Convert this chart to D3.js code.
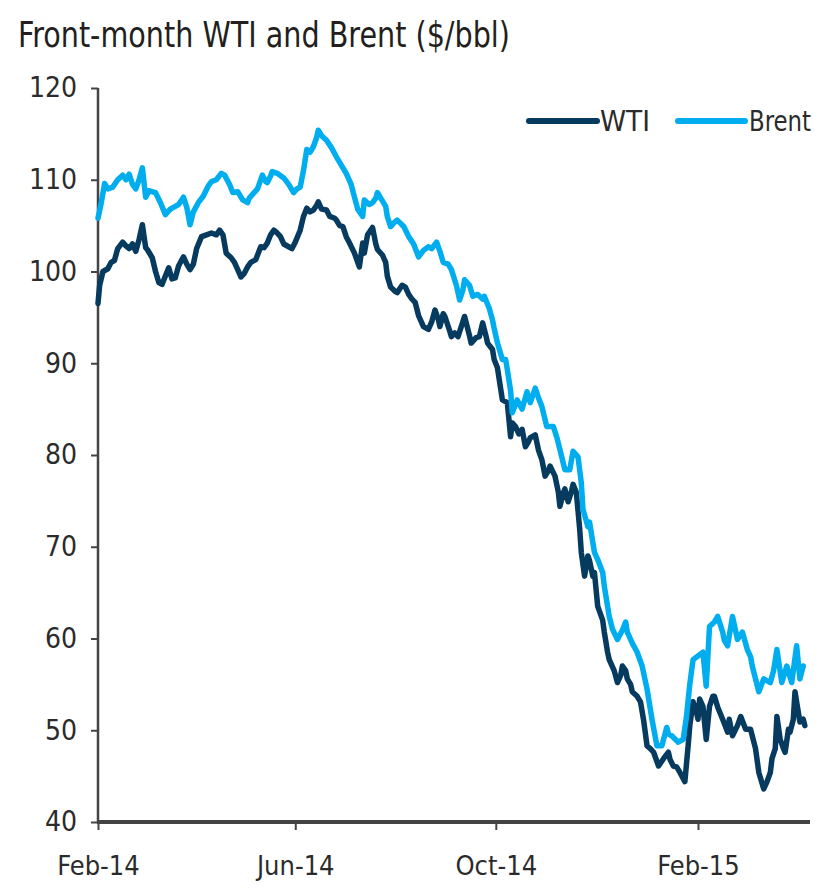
<!DOCTYPE html>
<html>
<head>
<meta charset="utf-8">
<script src="https://cdn.jsdelivr.net/npm/d3@7"></script>
<style>
  html, body { margin: 0; padding: 0; background: #ffffff; }
  svg { display: block; }
  text { font-family: "Liberation Sans Narrow", "DejaVu Sans Condensed", "Arial Narrow", sans-serif; }
</style>
</head>
<body>
<svg id="chart" width="831" height="888"></svg>
<script>
const titleText = "Front-month WTI and Brent ($/bbl)";
const seriesNames = ["WTI", "Brent"];
const yTickValues = [40, 50, 60, 70, 80, 90, 100, 110, 120];
const xTickDates = ["2014-02-01", "2014-06-01", "2014-10-01", "2015-02-01"];
const xTickLabels = ["Feb-14", "Jun-14", "Oct-14", "Feb-15"];

const wti = [
["2014-02-01",96.5],["2014-02-02",98.5],["2014-02-04",100.0],["2014-02-07",100.3],["2014-02-09",101.0],
["2014-02-11",101.2],["2014-02-13",102.5],["2014-02-16",103.2],["2014-02-18",102.8],["2014-02-20",102.5],
["2014-02-22",103.0],["2014-02-24",102.2],["2014-02-26",103.5],["2014-02-28",105.1],["2014-03-02",102.6],
["2014-03-03",102.4],["2014-03-06",101.5],["2014-03-08",100.0],["2014-03-10",98.8],["2014-03-12",98.6],
["2014-03-14",99.5],["2014-03-16",100.4],["2014-03-18",99.2],["2014-03-20",99.3],["2014-03-22",100.6],
["2014-03-25",101.6],["2014-03-27",100.8],["2014-03-29",100.2],["2014-03-31",100.8],["2014-04-02",102.5],
["2014-04-05",103.8],["2014-04-08",104.0],["2014-04-11",104.2],["2014-04-14",104.0],["2014-04-16",104.5],
["2014-04-18",104.0],["2014-04-20",102.0],["2014-04-23",101.5],["2014-04-25",101.0],["2014-04-27",100.2],
["2014-04-29",99.4],["2014-05-01",99.8],["2014-05-03",100.5],["2014-05-05",101.0],["2014-05-08",101.3],
["2014-05-11",102.7],["2014-05-13",102.6],["2014-05-15",103.1],["2014-05-17",104.0],["2014-05-19",104.5],
["2014-05-21",104.2],["2014-05-23",103.8],["2014-05-25",103.0],["2014-05-28",102.7],["2014-05-30",102.5],
["2014-06-01",103.2],["2014-06-04",104.5],["2014-06-06",106.0],["2014-06-08",106.9],["2014-06-10",106.5],
["2014-06-12",106.7],["2014-06-14",107.2],["2014-06-15",107.6],["2014-06-17",106.8],["2014-06-20",106.7],
["2014-06-22",106.0],["2014-06-25",105.8],["2014-06-26",105.6],["2014-06-28",105.0],["2014-06-30",104.9],
["2014-07-02",103.8],["2014-07-04",103.1],["2014-07-07",102.0],["2014-07-09",101.0],["2014-07-10",100.5],
["2014-07-12",103.1],["2014-07-13",102.0],["2014-07-15",104.0],["2014-07-18",104.8],["2014-07-20",103.0],
["2014-07-21",102.4],["2014-07-24",101.8],["2014-07-26",101.0],["2014-07-27",99.5],["2014-07-29",98.3],
["2014-08-01",97.8],["2014-08-02",97.7],["2014-08-05",98.5],["2014-08-07",98.3],["2014-08-09",97.5],
["2014-08-11",97.0],["2014-08-13",96.6],["2014-08-15",95.2],["2014-08-18",94.0],["2014-08-21",93.7],
["2014-08-23",94.5],["2014-08-25",95.8],["2014-08-27",94.8],["2014-08-28",94.0],["2014-08-30",95.4],
["2014-08-31",95.1],["2014-09-03",93.5],["2014-09-04",92.9],["2014-09-06",93.3],["2014-09-08",92.9],
["2014-09-10",94.0],["2014-09-12",95.1],["2014-09-15",93.0],["2014-09-16",92.2],["2014-09-19",92.8],
["2014-09-21",92.9],["2014-09-23",94.4],["2014-09-25",93.0],["2014-09-26",92.2],["2014-09-29",91.5],
["2014-09-30",90.4],["2014-10-02",89.5],["2014-10-05",86.0],["2014-10-08",85.7],["2014-10-10",82.0],
["2014-10-11",83.5],["2014-10-13",83.1],["2014-10-15",82.3],["2014-10-17",82.8],["2014-10-19",80.9],
["2014-10-21",81.5],["2014-10-22",81.9],["2014-10-25",82.2],["2014-10-27",80.5],["2014-10-29",79.5],
["2014-10-31",77.7],["2014-11-02",78.3],["2014-11-03",78.8],["2014-11-06",77.7],["2014-11-08",76.0],
["2014-11-09",74.4],["2014-11-11",75.8],["2014-11-12",76.3],["2014-11-14",74.9],["2014-11-16",76.0],
["2014-11-17",76.8],["2014-11-19",75.9],["2014-11-21",72.0],["2014-11-22",69.4],["2014-11-24",66.8],
["2014-11-26",69.0],["2014-11-27",68.5],["2014-11-29",66.8],["2014-11-30",67.2],["2014-12-02",63.5],
["2014-12-05",62.0],["2014-12-06",60.7],["2014-12-08",58.5],["2014-12-09",57.7],["2014-12-12",56.5],
["2014-12-14",55.2],["2014-12-16",56.0],["2014-12-17",57.0],["2014-12-19",56.5],["2014-12-20",55.6],
["2014-12-22",55.0],["2014-12-23",54.2],["2014-12-26",53.7],["2014-12-28",53.1],["2014-12-30",51.0],
["2015-01-01",48.3],["2015-01-03",48.0],["2015-01-05",47.6],["2015-01-08",46.1],["2015-01-11",46.9],
["2015-01-14",47.6],["2015-01-15",46.8],["2015-01-17",46.1],["2015-01-19",46.0],["2015-01-21",45.4],
["2015-01-24",44.4],["2015-01-26",48.3],["2015-01-27",50.5],["2015-01-29",53.1],["2015-01-31",52.0],
["2015-02-01",51.2],["2015-02-02",53.4],["2015-02-04",52.6],["2015-02-06",49.0],["2015-02-08",52.6],
["2015-02-10",53.7],["2015-02-11",53.7],["2015-02-13",52.5],["2015-02-16",51.2],["2015-02-19",49.8],
["2015-02-20",51.2],["2015-02-22",49.4],["2015-02-25",50.5],["2015-02-27",51.5],["2015-03-02",50.1],
["2015-03-05",50.1],["2015-03-08",48.0],["2015-03-10",45.4],["2015-03-13",43.6],["2015-03-15",44.4],
["2015-03-17",45.4],["2015-03-18",46.9],["2015-03-20",48.0],["2015-03-21",51.5],["2015-03-23",49.0],
["2015-03-25",48.0],["2015-03-26",47.6],["2015-03-28",50.1],["2015-03-29",49.8],["2015-03-31",51.2],
["2015-04-01",54.2],["2015-04-03",52.0],["2015-04-04",50.9],["2015-04-06",51.2],["2015-04-07",50.5]
];

const brent = [
["2014-02-01",105.8],["2014-02-03",107.5],["2014-02-05",109.6],["2014-02-07",109.0],["2014-02-10",109.2],
["2014-02-13",110.0],["2014-02-16",110.5],["2014-02-18",110.0],["2014-02-20",110.6],["2014-02-22",109.5],
["2014-02-24",109.0],["2014-02-26",110.0],["2014-02-28",111.3],["2014-03-02",108.1],["2014-03-04",108.8],
["2014-03-08",108.6],["2014-03-11",107.5],["2014-03-14",106.2],["2014-03-17",106.8],["2014-03-20",107.1],
["2014-03-22",107.3],["2014-03-25",108.1],["2014-03-27",107.0],["2014-03-29",105.1],["2014-03-31",106.5],
["2014-04-03",107.5],["2014-04-06",108.2],["2014-04-09",109.3],["2014-04-11",109.8],["2014-04-14",110.0],
["2014-04-17",110.7],["2014-04-19",110.5],["2014-04-22",109.5],["2014-04-24",108.6],["2014-04-27",108.7],
["2014-04-30",107.8],["2014-05-03",107.5],["2014-05-04",108.0],["2014-05-06",108.4],["2014-05-09",109.0],
["2014-05-12",110.5],["2014-05-14",109.8],["2014-05-15",109.7],["2014-05-17",110.4],["2014-05-18",110.9],
["2014-05-21",110.7],["2014-05-25",110.2],["2014-05-28",109.5],["2014-05-31",108.6],["2014-06-02",109.0],
["2014-06-04",109.2],["2014-06-06",111.0],["2014-06-08",113.3],["2014-06-10",113.0],["2014-06-12",113.6],
["2014-06-14",114.6],["2014-06-15",115.4],["2014-06-17",114.8],["2014-06-20",114.3],["2014-06-23",113.5],
["2014-06-26",112.5],["2014-06-29",111.6],["2014-07-02",110.7],["2014-07-05",109.5],["2014-07-07",108.1],
["2014-07-09",106.8],["2014-07-12",106.0],["2014-07-13",107.8],["2014-07-16",107.3],["2014-07-18",107.5],
["2014-07-20",108.0],["2014-07-21",108.6],["2014-07-23",108.0],["2014-07-26",107.1],["2014-07-27",106.0],
["2014-07-29",104.9],["2014-07-31",105.3],["2014-08-02",105.6],["2014-08-06",104.9],["2014-08-09",103.8],
["2014-08-12",103.0],["2014-08-15",101.6],["2014-08-18",102.3],["2014-08-21",102.7],["2014-08-23",102.5],
["2014-08-26",103.2],["2014-08-28",102.2],["2014-08-30",101.0],["2014-09-02",100.8],["2014-09-04",100.2],
["2014-09-07",98.5],["2014-09-09",96.9],["2014-09-11",98.0],["2014-09-12",99.1],["2014-09-15",98.5],
["2014-09-17",97.3],["2014-09-20",97.5],["2014-09-23",97.0],["2014-09-24",97.3],["2014-09-27",96.0],
["2014-09-29",94.7],["2014-09-30",93.8],["2014-10-02",92.2],["2014-10-05",90.4],["2014-10-07",90.4],
["2014-10-08",89.3],["2014-10-10",87.0],["2014-10-11",84.6],["2014-10-14",86.0],["2014-10-17",85.0],
["2014-10-20",86.9],["2014-10-22",85.7],["2014-10-25",87.3],["2014-10-27",86.2],["2014-10-29",85.3],
["2014-11-01",83.1],["2014-11-05",83.1],["2014-11-07",82.0],["2014-11-09",80.6],["2014-11-12",78.4],
["2014-11-15",78.4],["2014-11-17",80.4],["2014-11-20",79.8],["2014-11-22",77.0],["2014-11-23",74.1],
["2014-11-26",72.2],["2014-11-27",72.7],["2014-11-30",69.4],["2014-12-02",68.6],["2014-12-05",67.2],
["2014-12-06",65.7],["2014-12-08",63.5],["2014-12-09",62.4],["2014-12-11",61.0],["2014-12-14",59.9],
["2014-12-17",60.9],["2014-12-19",61.8],["2014-12-20",60.7],["2014-12-23",59.5],["2014-12-26",58.5],
["2014-12-29",57.0],["2015-01-01",54.5],["2015-01-04",51.2],["2015-01-07",48.3],["2015-01-10",48.3],
["2015-01-13",50.3],["2015-01-14",49.6],["2015-01-16",49.4],["2015-01-20",48.7],["2015-01-23",49.0],
["2015-01-25",51.5],["2015-01-27",55.0],["2015-01-29",57.7],["2015-02-01",58.1],["2015-02-04",58.5],
["2015-02-06",54.8],["2015-02-08",61.3],["2015-02-11",61.8],["2015-02-13",62.4],["2015-02-16",60.7],
["2015-02-17",59.8],["2015-02-19",59.2],["2015-02-22",62.4],["2015-02-25",59.9],["2015-02-28",60.7],
["2015-03-03",58.8],["2015-03-05",58.0],["2015-03-06",57.0],["2015-03-10",54.2],["2015-03-13",55.6],
["2015-03-17",55.2],["2015-03-19",56.5],["2015-03-21",58.8],["2015-03-24",55.2],["2015-03-27",57.0],
["2015-03-30",55.2],["2015-04-02",59.2],["2015-04-04",55.6],["2015-04-06",57.0]
];

const colors = { WTI: "#063a5e", Brent: "#00aeef" };
const axisColor = "#444444";
const textColor = "#2b2b2b";
const fontStack = "'Liberation Sans Narrow', 'DejaVu Sans Condensed', sans-serif";

const parse = d3.timeParse("%Y-%m-%d");
const svg = d3.select("#chart");

const plotLeft = 98, plotTop = 88, plotBottom = 822, axisRight = 810;

const x = d3.scaleTime()
  .domain([parse(xTickDates[0]), parse(xTickDates[3])])
  .range([plotLeft, 698]);
const y = d3.scaleLinear().domain([40, 120]).range([plotBottom, plotTop]);

// Title
svg.append("text")
  .attr("x", 18).attr("y", 47)
  .attr("font-size", 36)
  .attr("fill", "#231f20")
  .attr("textLength", 492)
  .attr("lengthAdjust", "spacingAndGlyphs")
  .text(titleText);

// Y axis
const yAxis = d3.axisLeft(y).tickValues(yTickValues).tickSize(7).tickPadding(14).tickFormat(d3.format("d"));
const gy = svg.append("g").attr("transform", `translate(${plotLeft},0)`).call(yAxis);
gy.select(".domain").remove();
gy.append("line").attr("x1", 0).attr("x2", 0).attr("y1", y(120)).attr("y2", y(40))
  .attr("stroke", axisColor).attr("stroke-width", 2.5);
gy.selectAll(".tick line").attr("stroke", axisColor).attr("stroke-width", 2);
gy.selectAll(".tick text").attr("fill", textColor).attr("font-size", 28)
  .attr("font-family", fontStack);

// X axis
const xAxis = d3.axisBottom(x).tickValues(xTickDates.map(parse)).tickSize(8).tickPadding(26)
  .tickFormat((d, i) => xTickLabels[i]);
const gx = svg.append("g").attr("transform", `translate(0,${plotBottom})`).call(xAxis);
gx.select(".domain").remove();
gx.selectAll(".tick line").attr("stroke", axisColor).attr("stroke-width", 2);
gx.selectAll(".tick text").attr("fill", textColor).attr("font-size", 27)
  .attr("font-family", fontStack);

// Lines
const line = d3.line().x(d => x(parse(d[0]))).y(d => y(d[1])).curve(d3.curveLinear);
const seriesData = { WTI: wti, Brent: brent };
seriesNames.forEach(name => {
  svg.append("path")
    .datum(seriesData[name])
    .attr("fill", "none")
    .attr("stroke", colors[name])
    .attr("stroke-width", 5.5)
    .attr("stroke-linejoin", "round")
    .attr("stroke-linecap", "round")
    .attr("d", line);
});

// x axis baseline
svg.append("line")
  .attr("x1", plotLeft - 1).attr("x2", axisRight)
  .attr("y1", plotBottom).attr("y2", plotBottom)
  .attr("stroke", axisColor).attr("stroke-width", 4);

// Legend
const legendItems = [
  { name: "WTI", x1: 529, x2: 597, tx: 600, w: 50 },
  { name: "Brent", x1: 678, x2: 745, tx: 749, w: 62 }
];
const lg = svg.append("g");
legendItems.forEach(it => {
  lg.append("line").attr("x1", it.x1).attr("x2", it.x2).attr("y1", 121).attr("y2", 121)
    .attr("stroke", colors[it.name]).attr("stroke-width", 6).attr("stroke-linecap", "round");
  lg.append("text").attr("x", it.tx).attr("y", 131).attr("font-size", 28)
    .attr("fill", textColor)
    .attr("textLength", it.w).attr("lengthAdjust", "spacingAndGlyphs")
    .text(it.name);
});
</script>
</body>
</html>
